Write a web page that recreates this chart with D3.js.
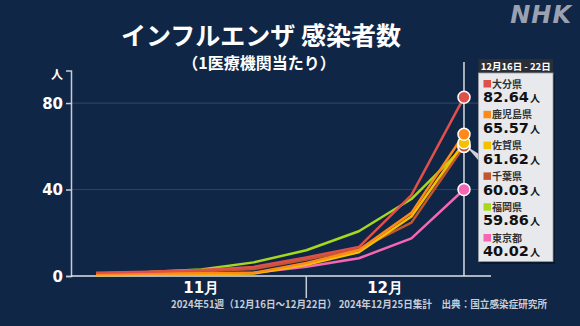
<!DOCTYPE html>
<html><head><meta charset="utf-8">
<script src="https://cdn.jsdelivr.net/npm/d3@7"></script>
<style>
html,body{margin:0;padding:0;background:#0f2646;}
svg{display:block;}
</style></head>
<body>
<svg id="c" width="580" height="326"></svg>
<script>
// ---- data ----
const weeks = [44, 45, 46, 47, 48, 49, 50, 51];
const prefectures = ["大分県", "鹿児島県", "佐賀県", "千葉県", "福岡県", "東京都"];
const oita      = [1.5, 2.0, 2.8, 4.2, 8.6, 13.4, 37.4, 82.64];
const kagoshima = [0.8, 1.0, 1.3, 1.5, 6.0, 12.0, 29.2, 65.57];
const saga      = [0.4, 0.6, 0.9, 1.2, 5.2, 11.0, 27.5, 61.62];
const chiba     = [1.2, 1.6, 2.2, 3.2, 7.6, 12.4, 24.7, 60.03];
const fukuoka   = [1.2, 1.8, 3.0, 6.3, 11.9, 20.7, 35.6, 59.86];
const tokyo     = [0.6, 0.8, 1.0, 1.5, 4.3, 8.2, 17.4, 40.02];
const seriesValues = [oita, kagoshima, saga, chiba, fukuoka, tokyo];
const colors = ["#e0504a", "#ff8a1a", "#f5c000", "#c4562f", "#a8d81e", "#f766b5"];
const yTicks = [0, 40, 80];
const monthLabels = ["11月", "12月"];
const monthStartWeek = 48;   // week containing Dec 1
const title = "インフルエンザ 感染者数";
const subtitle = "（1医療機関当たり）";
const footer = "2024年51週（12月16日～12月22日） 2024年12月25日集計　出典：国立感染症研究所";
const tooltipTitle = "12月16日 - 22日";
const unit = "人";

// ---- scales ----
const svg = d3.select("#c");
const x = d3.scaleLinear().domain([43.524, 51.514]).range([71, 491]);
const y = d3.scaleLinear().domain([0, 95]).range([276, 70.6]);
const jp = "'Noto Sans CJK JP', 'Noto Sans', sans-serif";
const num = "'DejaVu Sans', 'Liberation Sans', sans-serif";

// title
svg.append("text").attr("x", 261).attr("y", 45).attr("text-anchor", "middle")
  .attr("font-family", jp).attr("font-weight", 700).attr("font-size", 25)
  .attr("fill", "#fff").text(title);
svg.append("text").attr("x", 259).attr("y", 69).attr("text-anchor", "middle")
  .attr("font-family", jp).attr("font-weight", 700).attr("font-size", 16)
  .attr("fill", "#fff").text(subtitle);

// NHK logo
svg.append("text").attr("x", 572).attr("y", 23).attr("text-anchor", "end")
  .attr("font-family", "'DejaVu Sans', sans-serif").attr("font-weight", 900)
  .attr("font-style", "italic").attr("font-size", 24).attr("letter-spacing", 1)
  .attr("fill", "#9aa2b2").text("NHK");

// grid
svg.append("g").selectAll("line").data(yTicks.filter(d => d > 0)).join("line")
  .attr("x1", 71).attr("x2", 491).attr("y1", d => y(d)).attr("y2", d => y(d))
  .attr("stroke", "#2b4366").attr("stroke-width", 1.2);

// y axis
const yAxis = d3.axisLeft(y).tickValues(yTicks).tickSize(5).tickPadding(3);
const gy = svg.append("g").attr("transform", "translate(71,0)").call(yAxis);
gy.select(".domain").attr("stroke", "#c8ccd6").attr("stroke-width", 1.5);
gy.selectAll(".tick line").attr("stroke", "#c8ccd6").attr("stroke-width", 1.5);
gy.selectAll(".tick text").attr("fill", "#fff").attr("font-family", num)
  .attr("font-weight", 700).attr("font-size", 15).attr("dy", "0.36em");
svg.append("text").attr("x", 57).attr("y", 79).attr("text-anchor", "middle")
  .attr("font-family", jp).attr("font-weight", 700).attr("font-size", 12)
  .attr("fill", "#fff").text(unit);

// x axis baseline
svg.append("line").attr("x1", x.range()[0]).attr("x2", x.range()[1])
  .attr("y1", y(0)).attr("y2", y(0)).attr("stroke", "#e0e3ea").attr("stroke-width", 1.5);
svg.append("line").attr("x1", x(monthStartWeek)).attr("x2", x(monthStartWeek))
  .attr("y1", y(0)).attr("y2", 298).attr("stroke", "#c8ccd6").attr("stroke-width", 1.5);
const monthCenters = [(weeks[0] + monthStartWeek) / 2, (monthStartWeek + weeks[weeks.length - 1]) / 2];
svg.append("g").selectAll("text").data(monthLabels).join("text")
  .attr("x", (d, i) => x(monthCenters[i])).attr("y", 293).attr("text-anchor", "middle")
  .attr("font-family", num).attr("font-weight", 700).attr("font-size", 15)
  .attr("fill", "#fff").text(d => d);

// hover line
const lastW = weeks[weeks.length - 1];
svg.append("line").attr("x1", x(lastW)).attr("x2", x(lastW)).attr("y1", 62).attr("y2", y(0))
  .attr("stroke", "#d8dce4").attr("stroke-width", 1.5);

// lines (draw bottom legend entries first)
const line = d3.line().x((d, i) => x(weeks[i])).y(d => y(d));
const order = d3.range(seriesValues.length).reverse();
svg.append("g").selectAll("path").data(order).join("path")
  .attr("d", i => line(seriesValues[i])).attr("fill", "none")
  .attr("stroke", i => colors[i]).attr("stroke-width", 2.5)
  .attr("stroke-linejoin", "round");

// pointer wedge
svg.append("path").attr("d", "M466,146 L479,154 L479,161 Z").attr("fill", "#cfd2d8");

// markers
svg.append("g").selectAll("circle").data(order).join("circle")
  .attr("cx", x(lastW)).attr("cy", i => y(seriesValues[i][weeks.length - 1]))
  .attr("r", 6).attr("fill", i => colors[i]).attr("stroke", "#fff").attr("stroke-width", 1.5);

// tooltip
const tx = 478.5, tw = 74.5;
svg.append("rect").attr("x", tx + 2).attr("y", 75).attr("width", tw).attr("height", 189)
  .attr("fill", "#000").attr("opacity", 0.35);
svg.append("rect").attr("x", tx).attr("y", 59).attr("width", tw).attr("height", 14)
  .attr("fill", "#2a2f37");
svg.append("text").attr("x", tx + tw / 2).attr("y", 69.5).attr("text-anchor", "middle")
  .attr("font-family", jp).attr("font-weight", 700).attr("font-size", 9.5)
  .attr("fill", "#fff").text(tooltipTitle);
svg.append("rect").attr("x", tx).attr("y", 73).attr("width", tw).attr("height", 188.5)
  .attr("fill", "#e8e9ed").attr("stroke", "#9a9ca2").attr("stroke-width", 0.8);
const items = svg.append("g").selectAll("g").data(prefectures).join("g")
  .attr("transform", (d, i) => `translate(${tx + 5},${80 + i * 30.8})`);
items.append("rect").attr("x", 0).attr("y", 0).attr("width", 7.5).attr("height", 7.5)
  .attr("fill", (d, i) => colors[i]);
items.append("text").attr("x", 8.5).attr("y", 7.5)
  .attr("font-family", jp).attr("font-weight", 700).attr("font-size", 10)
  .attr("fill", "#333").text(d => d);
const vt = items.append("text").attr("x", -0.5).attr("y", 22.3)
  .attr("font-family", num).attr("font-weight", 700).attr("fill", "#111");
vt.append("tspan").attr("font-size", 14.5)
  .text((d, i) => seriesValues[i][weeks.length - 1].toFixed(2));
vt.append("tspan").attr("font-family", jp).attr("font-size", 10).attr("dx", 1).text(unit);

// footer
svg.append("text").attr("x", 171).attr("y", 308)
  .attr("font-family", jp).attr("font-weight", 700).attr("font-size", 10)
  .attr("fill", "#c8ccd6").attr("textLength", 376).attr("lengthAdjust", "spacingAndGlyphs")
  .text(footer);
</script>
</body></html>
